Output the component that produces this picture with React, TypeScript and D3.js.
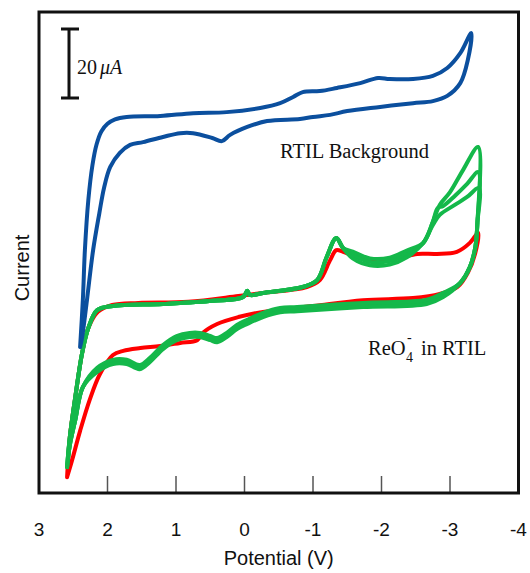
import React from "react";
import * as d3 from "d3";

// Potential (V) and current (µA, arbitrary offset)
const xTicks = [3, 2, 1, 0, -1, -2, -3, -4];

const blueForward: [number, number][] = [
  [2.40, 42.3], [2.36, 55.9], [2.33, 70.4], [2.28, 84.9], [2.22, 95.0], [2.16, 101.0],
  [2.09, 104.8], [2.00, 107.0], [1.89, 108.3], [1.72, 109.0], [1.23, 109.3], [0.75, 110.1],
  [0.26, 110.4], [-0.23, 111.6], [-0.52, 113.0], [-0.71, 114.8], [-0.85, 116.2], [-1.10, 116.5],
  [-1.35, 117.4], [-1.69, 118.8], [-1.95, 120.3], [-2.12, 120.0], [-2.46, 120.0], [-2.75, 120.9],
  [-2.96, 123.2], [-3.15, 127.5], [-3.31, 133.3],
];
const blueReverse: [number, number][] = [
  [-3.26, 125.5], [-3.15, 118.8], [-2.96, 115.1], [-2.75, 113.6], [-2.46, 113.0], [-1.98, 111.9],
  [-1.50, 110.7], [-1.25, 109.6], [-1.00, 109.0], [-0.81, 108.4], [-0.33, 107.8], [-0.04, 106.1],
  [0.21, 103.8], [0.33, 102.0], [0.47, 102.9], [0.75, 104.3], [0.94, 104.3], [1.19, 103.2],
  [1.48, 101.7], [1.67, 100.9], [1.82, 98.6], [1.96, 94.5], [2.05, 88.5], [2.12, 81.0],
  [2.21, 70.4], [2.30, 55.9], [2.37, 45.2], [2.40, 42.3],
];

const redForward: [number, number][] = [
  [2.59, 4.6], [2.55, 16.2], [2.47, 27.8], [2.37, 40.6], [2.28, 47.8], [2.14, 52.5],
  [1.93, 54.5], [1.55, 55.1], [0.82, 55.4], [0.09, 57.1], [-0.27, 58.0], [-0.91, 59.7],
  [-1.10, 61.7], [-1.25, 67.5], [-1.34, 70.4], [-1.44, 69.9], [-1.64, 68.4], [-1.83, 67.8],
  [-2.23, 68.1], [-2.52, 69.3], [-2.81, 69.3], [-3.10, 69.9], [-3.29, 72.5], [-3.41, 75.4],
];
const redReverse: [number, number][] = [
  [-3.37, 69.6], [-3.26, 63.8], [-3.11, 59.7], [-2.85, 57.7], [-2.46, 56.5], [-1.73, 55.9],
  [-1.00, 54.2], [-0.27, 52.5], [0.09, 51.0], [0.40, 49.0], [0.61, 46.4], [0.69, 44.3],
  [0.94, 43.5], [1.23, 42.6], [1.52, 42.0], [1.77, 41.2], [1.92, 40.0], [2.11, 34.5],
  [2.26, 27.0], [2.40, 18.0], [2.52, 9.3], [2.59, 4.6],
];

const greenForward: [number, number][] = [
  [2.59, 7.5], [2.55, 16.2], [2.47, 27.8], [2.37, 40.6], [2.28, 47.8], [2.15, 53.0],
  [1.92, 54.2], [1.19, 54.8], [0.46, 55.7], [0.02, 56.8], [-0.04, 58.6], [-0.08, 57.4],
  [-0.27, 58.0], [-0.85, 59.7], [-1.06, 61.7], [-1.20, 68.4], [-1.34, 73.9], [-1.44, 71.0],
  [-1.58, 69.0], [-1.83, 67.0], [-2.12, 67.2], [-2.37, 69.3], [-2.61, 72.5],
];
const greenTipA: [number, number][] = [
  [-2.75, 78.6], [-2.85, 83.5], [-3.00, 87.2], [-3.19, 93.6], [-3.41, 100.3],
];
const greenTipB: [number, number][] = [
  [-2.75, 78.6], [-2.82, 82.6], [-2.90, 83.2], [-3.07, 86.1], [-3.25, 89.6], [-3.41, 93.0],
];
const greenTipC: [number, number][] = [
  [-2.75, 77.7], [-2.85, 80.6], [-3.07, 83.5], [-3.25, 85.8], [-3.42, 88.4],
];
const greenReverse: [number, number][] = [
  [-3.40, 78.3], [-3.37, 71.3], [-3.29, 65.5], [-3.15, 60.9], [-2.90, 57.4], [-2.66, 55.4],
  [-1.73, 54.5], [-0.77, 53.3], [-0.52, 53.0], [-0.27, 51.6], [-0.04, 49.6], [0.11, 48.1],
  [0.26, 45.8], [0.40, 44.3], [0.50, 44.9], [0.65, 45.8], [0.80, 45.8], [0.99, 44.9],
  [1.19, 42.3], [1.38, 38.6], [1.53, 36.5], [1.72, 38.0], [1.92, 38.0], [2.15, 35.7],
  [2.36, 30.7], [2.47, 21.2], [2.55, 13.9], [2.59, 7.5],
];
const greenOffsets = [0, 1.0, -1.0];

const W = 530;
const H = 573;
const left = 39;
const right = 518.5;
const top = 12;
const bottom = 493;

export default function App() {
  const x = d3.scaleLinear().domain([3, -4]).range([left, right]);
  const y = d3.scaleLinear().domain([0, 140]).range([bottom, 10]);
  const line = d3
    .line<[number, number]>()
    .x((d) => x(d[0]))
    .y((d) => y(d[1]))
    .curve(d3.curveCatmullRom.alpha(0.5));

  const blue = [...blueForward, ...blueReverse];
  const red = [...redForward, ...redReverse];
  const greenCycles = [greenTipA, greenTipB, greenTipC].map((tip, i) => {
    const off = greenOffsets[i];
    const fwd = greenForward.map(
      ([v, c]) => [v, v < -1.5 && v > -2.6 ? c + off : c] as [number, number]
    );
    const rev = greenReverse.map(
      ([v, c]) => [v, v < 2.3 && v > -3.0 ? c + off * 0.6 : c] as [number, number]
    );
    return [...fwd, ...tip, ...rev];
  });

  const serif = "'Liberation Serif', 'DejaVu Serif', serif";
  const sans = "'Liberation Sans', Arial, sans-serif";

  return (
    <svg
      width={W}
      height={H}
      style={{ position: "absolute", left: 0, top: 0, background: "#fff" }}
    >
      <rect x={0} y={0} width={W} height={H} fill="#fff" />
      {/* ticks */}
      {xTicks.slice(1, -1).map((t) => (
        <line
          key={"tk" + t}
          x1={x(t)}
          x2={x(t)}
          y1={bottom}
          y2={bottom - 17}
          stroke="#555"
          strokeWidth={1.5}
        />
      ))}
      {/* curves */}
      <path d={line(red) || ""} fill="none" stroke="#ff0000" strokeWidth={4} strokeLinejoin="round" strokeLinecap="round" />
      {greenCycles.map((g, i) => (
        <path key={"g" + i} d={line(g) || ""} fill="none" stroke="#14b84a" strokeWidth={4} strokeLinejoin="round" strokeLinecap="round" />
      ))}
      <path d={line(blue) || ""} fill="none" stroke="#0b4f9e" strokeWidth={4} strokeLinejoin="round" strokeLinecap="round" />

      {/* frame */}
      <rect x={left} y={top} width={right - left} height={bottom - top} fill="none" stroke="#111" strokeWidth={3} />

      {/* tick labels */}
      {xTicks.map((t) => (
        <text key={"tl" + t} x={x(t)} y={536} textAnchor="middle" fontFamily={sans} fontSize={19} fill="#111">
          {t}
        </text>
      ))}
      <text x={(left + right) / 2} y={565} textAnchor="middle" fontFamily={sans} fontSize={20} fill="#111">
        Potential (V)
      </text>
      <text transform={`translate(29,${268}) rotate(-90)`} textAnchor="middle" fontFamily={sans} fontSize={20} fill="#111">
        Current
      </text>

      {/* scale bar */}
      <line x1={69} x2={69} y1={29} y2={98} stroke="#111" strokeWidth={3} />
      <line x1={61} x2={79} y1={29} y2={29} stroke="#111" strokeWidth={3} />
      <line x1={61} x2={79} y1={98} y2={98} stroke="#111" strokeWidth={3} />
      <text x={77} y={74} fontFamily={serif} fontSize={20} fill="#111">
        20<tspan fontStyle="italic" dx={3}>μA</tspan>
      </text>

      {/* annotations */}
      <text x={280} y={158} fontFamily={serif} fontSize={20.5} fill="#111">
        RTIL Background
      </text>
      <text x={368} y={355} fontFamily={serif} fontSize={20.5} fill="#111">ReO</text>
      <text x={406} y={362} fontFamily={serif} fontSize={14} fill="#111">4</text>
      <text x={407} y={342} fontFamily={serif} fontSize={14} fill="#111">-</text>
      <text x={421} y={355} fontFamily={serif} fontSize={20.5} fill="#111">in RTIL</text>
    </svg>
  );
}
